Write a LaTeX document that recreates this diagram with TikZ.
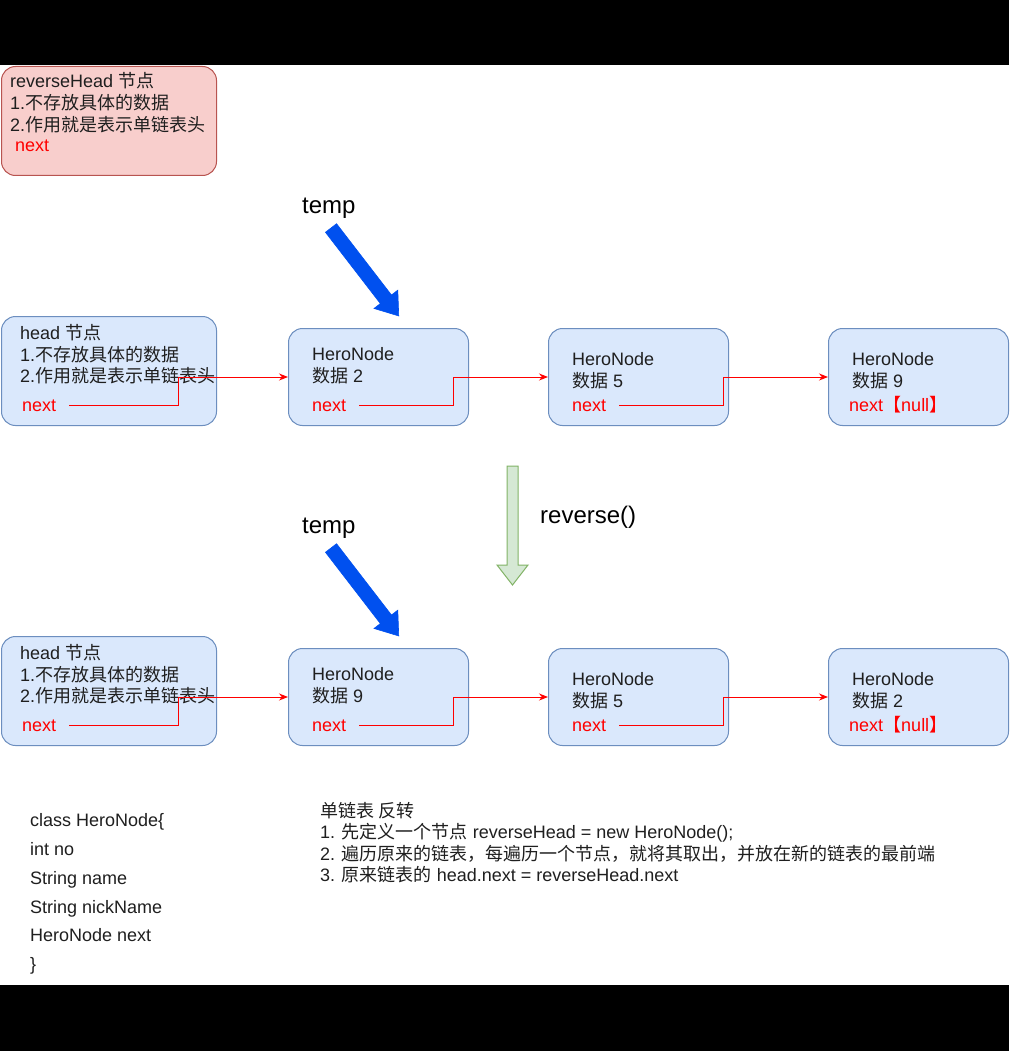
\documentclass[tikz,border=0pt]{standalone}
\usepackage{fontspec}
\setmainfont{Liberation Sans}
\newfontfamily\cjk{Noto Sans CJK SC}
\newcommand{\zh}[1]{{\cjk #1}}
\usetikzlibrary{arrows.meta}
\definecolor{ink}{HTML}{1F1F1F}
\definecolor{redfill}{HTML}{F8CECC}
\definecolor{redline}{HTML}{B85450}
\definecolor{bluefill}{HTML}{DAE8FC}
\definecolor{blueline}{HTML}{6C8EBF}
\definecolor{tempblue}{HTML}{0050EF}
\definecolor{greenfill}{HTML}{D5E8D4}
\definecolor{greenline}{HTML}{82B366}
\definecolor{nextred}{HTML}{FF0000}
\tikzset{
  boxbase/.style={rectangle, rounded corners=14pt, anchor=north west, inner sep=0pt, line width=1pt},
  pinkbox/.style={boxbase, fill=redfill, draw=redline, minimum width=215pt, minimum height=109pt},
  headbox/.style={boxbase, fill=bluefill, draw=blueline, minimum width=215pt, minimum height=109pt},
  herobox/.style={boxbase, fill=bluefill, draw=blueline, minimum width=180pt, minimum height=97pt},
  txt/.style={anchor=base west, inner sep=0pt, text=ink, font=\fontsize{18}{21.6}\selectfont},
  redtxt/.style={txt, text=nextred},
  bigtxt/.style={anchor=base west, inner sep=0pt, text=black, font=\fontsize{24}{28}\selectfont},
  conn/.style={draw=nextred, line width=1pt, -{Stealth[length=9pt,width=7pt]}},
  temparrow/.style={fill=tempblue, draw=tempblue, line width=0.6pt},
}
\begin{document}
\begin{tikzpicture}[x=1pt,y=1pt]
\useasboundingbox (0,0) rectangle (1009,-1051);
\fill[white] (0,0) rectangle (1009,-1051);
\fill[black] (0,0) rectangle (1009,-65);
\fill[black] (0,-985) rectangle (1009,-1051);

% reverseHead box
\node[pinkbox] (rh) at (1,-66) {};
\node[txt] (rh1) at (10,-88) {reverseHead \zh{节点}};
\node[txt] (rh2) at (10,-110) {1.\zh{不存放具体的数据}};
\node[txt] (rh3) at (10,-132) {2.\zh{作用就是表示单链表头}};
\node[redtxt] (rh4) at (15,-152) {next};

% ===== Row 1 =====
\node[bigtxt] (temp1) at (302,-213) {temp};
\begin{scope}[shift={(331,-228)}, rotate=-52.4]
  \fill[temparrow] (0,7) -- (90,7) -- (90,15) -- (111,0) -- (90,-15) -- (90,-7) -- (0,-7) -- cycle;
\end{scope}

\node[headbox] (h1) at (1,-316) {};
\node[txt] (h1a) at (20,-339) {head \zh{节点}};
\node[txt] (h1b) at (20,-361) {1.\zh{不存放具体的数据}};
\node[txt] (h1c) at (20,-382) {2.\zh{作用就是表示单链表头}};
\node[redtxt] (h1n) at (22,-411) {next};

\node[herobox] (a1) at (288,-328) {};
\node[txt] (a1a) at (312,-360) {HeroNode};
\node[txt] (a1b) at (312,-382) {\zh{数据} 2};
\node[redtxt] (a1n) at (312,-411) {next};

\node[herobox] (a2) at (548,-328) {};
\node[txt] (a2a) at (572,-365) {HeroNode};
\node[txt] (a2b) at (572,-387) {\zh{数据} 5};
\node[redtxt] (a2n) at (572,-411) {next};

\node[herobox] (a3) at (828,-328) {};
\node[txt] (a3a) at (852,-365) {HeroNode};
\node[txt] (a3b) at (852,-387) {\zh{数据} 9};
\node[redtxt] (a3n) at (849,-411) {next\zh{【}null\zh{】}};

\coordinate (k1) at (178,-377);
\coordinate (k2) at (453,-377);
\coordinate (k3) at (723,-377);
\draw[conn] ([xshift=13pt,yshift=3pt]h1n.mid east) -| (k1) -- (k1 -| a1.west);
\draw[conn] ([xshift=13pt,yshift=3pt]a1n.mid east) -| (k2) -- (k2 -| a2.west);
\draw[conn] ([xshift=13pt,yshift=3pt]a2n.mid east) -| (k3) -- (k3 -| a3.west);

% reverse arrow
\fill[greenfill, draw=greenline, line width=1pt] (507,-466) -- (518,-466) -- (518,-565) -- (528,-565) -- (512.5,-585) -- (497,-565) -- (507,-565) -- cycle;
\node[bigtxt] (rev) at (540,-523) {reverse()};

% ===== Row 2 =====
\node[bigtxt] (temp2) at (302,-533) {temp};
\begin{scope}[shift={(331,-548)}, rotate=-52.4]
  \fill[temparrow] (0,7) -- (90,7) -- (90,15) -- (111,0) -- (90,-15) -- (90,-7) -- (0,-7) -- cycle;
\end{scope}

\node[headbox] (h2) at (1,-636) {};
\node[txt] (h2a) at (20,-659) {head \zh{节点}};
\node[txt] (h2b) at (20,-681) {1.\zh{不存放具体的数据}};
\node[txt] (h2c) at (20,-702) {2.\zh{作用就是表示单链表头}};
\node[redtxt] (h2n) at (22,-731) {next};

\node[herobox] (b1) at (288,-648) {};
\node[txt] (b1a) at (312,-680) {HeroNode};
\node[txt] (b1b) at (312,-702) {\zh{数据} 9};
\node[redtxt] (b1n) at (312,-731) {next};

\node[herobox] (b2) at (548,-648) {};
\node[txt] (b2a) at (572,-685) {HeroNode};
\node[txt] (b2b) at (572,-707) {\zh{数据} 5};
\node[redtxt] (b2n) at (572,-731) {next};

\node[herobox] (b3) at (828,-648) {};
\node[txt] (b3a) at (852,-685) {HeroNode};
\node[txt] (b3b) at (852,-707) {\zh{数据} 2};
\node[redtxt] (b3n) at (849,-731) {next\zh{【}null\zh{】}};

\coordinate (m1) at (178,-697);
\coordinate (m2) at (453,-697);
\coordinate (m3) at (723,-697);
\draw[conn] ([xshift=13pt,yshift=3pt]h2n.mid east) -| (m1) -- (m1 -| b1.west);
\draw[conn] ([xshift=13pt,yshift=3pt]b1n.mid east) -| (m2) -- (m2 -| b2.west);
\draw[conn] ([xshift=13pt,yshift=3pt]b2n.mid east) -| (m3) -- (m3 -| b3.west);

% ===== Class text =====
\node[txt] (c1) at (30,-826) {class HeroNode\{};
\node[txt] (c2) at (30,-855) {int no};
\node[txt] (c3) at (30,-884) {String name};
\node[txt] (c4) at (30,-913) {String nickName};
\node[txt] (c5) at (30,-941) {HeroNode next};
\node[txt] (c6) at (30,-970) {\}};

% ===== Explanation =====
\node[txt] (e0) at (320,-817) {\zh{单链表 反转}};
\node[txt] (e1) at (320,-838.6) {1. \zh{先定义一个节点} reverseHead = new HeroNode();};
\node[txt] (e2) at (320,-860.2) {2. \zh{遍历原来的链表，每遍历一个节点，就将其取出，并放在新的链表的最前端}};
\node[txt] (e3) at (320,-881.8) {3. \zh{原来链表的} head.next = reverseHead.next};
\end{tikzpicture}
\end{document}
